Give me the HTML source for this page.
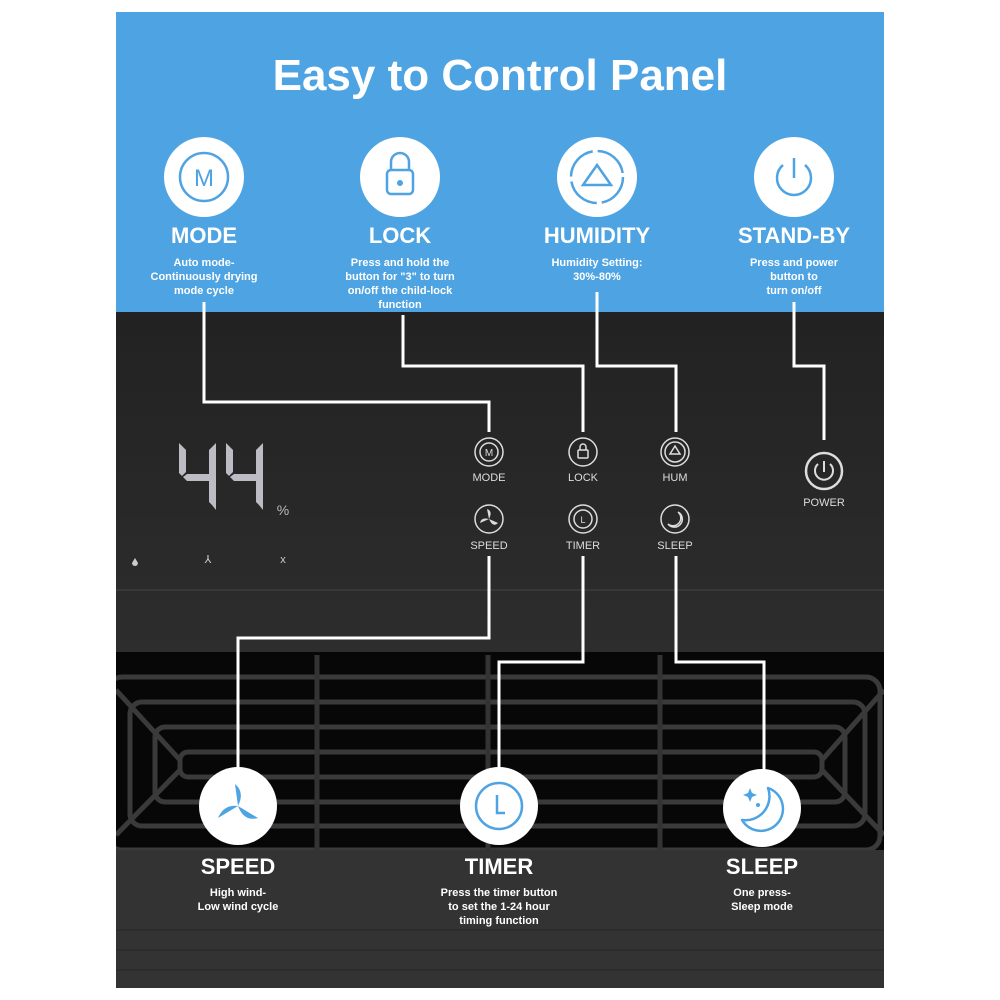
<!DOCTYPE html>
<html><head><meta charset="utf-8"><style>
html,body{margin:0;padding:0;background:#fff;}
svg{display:block;font-family:"Liberation Sans",sans-serif;}
</style></head><body>
<svg width="1000" height="1000" viewBox="0 0 1000 1000" xmlns="http://www.w3.org/2000/svg">
<defs>
<linearGradient id="dk" x1="0" y1="0" x2="0" y2="1">
<stop offset="0" stop-color="#222"/><stop offset="1" stop-color="#383838"/>
</linearGradient>
<clipPath id="cp"><rect x="116" y="12" width="768" height="976"/></clipPath>
</defs>
<rect x="0" y="0" width="1000" height="1000" fill="#fff"/>
<g clip-path="url(#cp)">
<rect x="116" y="312" width="768" height="676" fill="url(#dk)"/>
<line x1="116" y1="590" x2="884" y2="590" stroke="#444" stroke-width="1"/>
<rect x="116" y="652" width="768" height="200" fill="#070707"/>
<g fill="none" stroke="#3a3a3a" stroke-width="5">
<rect x="108" y="677" width="772" height="173" rx="14"/>
<rect x="130" y="702" width="735" height="124" rx="12"/>
<rect x="155" y="727" width="690" height="75" rx="10"/>
<rect x="180" y="752" width="642" height="25" rx="8"/>
<line x1="116" y1="690" x2="180" y2="760"/>
<line x1="116" y1="835" x2="180" y2="770"/>
<line x1="884" y1="690" x2="822" y2="760"/>
<line x1="884" y1="835" x2="822" y2="770"/>
</g>
<g stroke="#333" stroke-width="5">
<line x1="317" y1="655" x2="317" y2="850"/>
<line x1="488" y1="655" x2="488" y2="850"/>
<line x1="660" y1="655" x2="660" y2="850"/>
</g>
<rect x="116" y="850" width="768" height="138" fill="#333"/>
<g stroke="#2a2a2a" stroke-width="1.5">
<line x1="116" y1="930" x2="884" y2="930"/>
<line x1="116" y1="950" x2="884" y2="950"/>
<line x1="116" y1="970" x2="884" y2="970"/>
</g>
</g>
<rect x="116" y="12" width="768" height="300" fill="#4ea3e2"/>
<text x="500" y="90" text-anchor="middle" font-size="44" font-weight="bold" fill="#fff">Easy to Control Panel</text>

<g fill="#fff"><circle cx="204" cy="177" r="40"/><circle cx="400" cy="177" r="40"/><circle cx="597" cy="177" r="40"/><circle cx="794" cy="177" r="40"/></g>
<g fill="none" stroke="#4ea3e2" stroke-width="2.5">
<circle cx="204" cy="177" r="24"/>
<rect x="387" y="170" width="26" height="24" rx="4"/>
<path d="M391 170 v-8 a9 9 0 0 1 18 0 v8"/>
<circle cx="597" cy="177" r="26" stroke-dasharray="36 5"/>
<path d="M597 165 L611 185 L583 185 Z"/>
<path d="M783 165 a17 17 0 1 0 22 0"/>
<line x1="794" y1="158" x2="794" y2="178"/>
</g>
<circle cx="400" cy="183" r="3" fill="#4ea3e2"/>
<text x="204" y="186" text-anchor="middle" font-size="24" fill="#4ea3e2">M</text>

<g fill="#fff" font-weight="bold" text-anchor="middle">
<text x="204" y="243" font-size="22">MODE</text>
<text x="400" y="243" font-size="22">LOCK</text>
<text x="597" y="243" font-size="22">HUMIDITY</text>
<text x="794" y="243" font-size="22">STAND-BY</text>
<g font-size="11">
<text x="204" y="266">Auto mode-</text><text x="204" y="280">Continuously drying</text><text x="204" y="294">mode cycle</text>
<text x="400" y="266">Press and hold the</text><text x="400" y="280">button for "3" to turn</text><text x="400" y="294">on/off the child-lock</text><text x="400" y="308">function</text>
<text x="597" y="266">Humidity Setting:</text><text x="597" y="280">30%-80%</text>
<text x="794" y="266">Press and power</text><text x="794" y="280">button to</text><text x="794" y="294">turn on/off</text>
</g>
</g>

<g fill="none" stroke="#fff" stroke-width="3">
<path d="M204 302 V402 H489 V432"/>
<path d="M403 315 V366 H583 V432"/>
<path d="M597 292 V366 H676 V432"/>
<path d="M794 302 V366 H824 V440"/>
<path d="M489 556 V638 H238 V770"/>
<path d="M583 556 V662 H499 V770"/>
<path d="M676 556 V662 H764 V770"/>
</g>

<g fill="#bdbcc4">
<path d="M179 443 L186 450 L186 472 L182 476 L179 473 Z"/>
<path d="M183 477 L187 474 L210 474 L214 477 L210 481 L187 481 Z"/>
<path d="M209 450 L216 443 L216 510 L212 505 L209 502 L209 481 L212 477 L209 474 Z"/>
<path d="M226 443 L233 450 L233 472 L229 476 L226 473 Z"/>
<path d="M230 477 L234 474 L257 474 L261 477 L257 481 L234 481 Z"/>
<path d="M256 450 L263 443 L263 510 L259 505 L256 502 L256 481 L259 477 L256 474 Z"/>
</g>
<text x="283" y="515" font-size="14" fill="#bbb" text-anchor="middle">%</text>
<g fill="#ccc"><path d="M135 558 l-3 5 a3 3 0 0 0 6 0 z"/></g>
<text x="208" y="563" font-size="11" fill="#ccc" text-anchor="middle">⅄</text>
<text x="283" y="563" font-size="11" fill="#ccc" text-anchor="middle">x</text>

<g fill="none" stroke="#ddd" stroke-width="1.5">
<circle cx="489" cy="452" r="14"/><circle cx="489" cy="452" r="9"/>
<circle cx="583" cy="452" r="14"/><rect x="578" y="450" width="10" height="8" rx="1"/><path d="M580 450 v-3 a3 3 0 0 1 6 0 v3"/>
<circle cx="675" cy="452" r="14"/><circle cx="675" cy="452" r="10"/><path d="M675 446 L680 454 L670 454 Z"/>
<circle cx="489" cy="519" r="14"/>
<circle cx="583" cy="519" r="14"/><circle cx="583" cy="519" r="9"/>
<circle cx="675" cy="519" r="14"/><path d="M678 512 A8 8 0 1 1 668 524 A7 7 0 0 0 678 512"/>
<circle cx="824" cy="471" r="18" stroke-width="2.5"/><path d="M818 464 a9 9 0 1 0 12 0" stroke-width="2"/><line x1="824" y1="461" x2="824" y2="472" stroke-width="2"/>
</g>
<text x="489" y="456" font-size="10" fill="#ddd" text-anchor="middle">M</text>
<text x="583" y="523" font-size="9" fill="#ddd" text-anchor="middle">L</text>
<g fill="#ddd"><path d="M489 519 l-2 -10 q6 2 2 10 z M489 519 l9 4 q-5 5 -9 -4 z M489 519 l-9 4 q1 -6 9 -4 z"/></g>
<g fill="#ddd" font-size="11" text-anchor="middle">
<text x="489" y="481">MODE</text><text x="583" y="481">LOCK</text><text x="675" y="481">HUM</text>
<text x="489" y="549">SPEED</text><text x="583" y="549">TIMER</text><text x="675" y="549">SLEEP</text>
<text x="824" y="506">POWER</text>
</g>

<g fill="#fff"><circle cx="238" cy="806" r="39"/><circle cx="499" cy="806" r="39"/><circle cx="762" cy="808" r="39"/></g>
<g fill="#4ea3e2">
<path d="M238 806 l-3 -22 q10 8 3 22 z M238 806 l20 12 q-14 4 -20 -12 z M238 806 l-20 12 q6 -14 20 -12 z"/>
</g>
<g fill="none" stroke="#4ea3e2" stroke-width="2.5">
<circle cx="499" cy="806" r="23"/>
<path d="M497 795 V813 H505"/>
<path d="M768 788 A22 22 0 1 1 742 820 A24 24 0 0 0 768 788 Z" stroke-linejoin="round"/>
</g>
<g fill="#4ea3e2"><path d="M750 788 l2 5 5 2 -5 2 -2 5 -2 -5 -5 -2 5 -2z"/><circle cx="758" cy="805" r="2"/></g>

<g fill="#fff" font-weight="bold" text-anchor="middle">
<text x="238" y="874" font-size="22">SPEED</text>
<text x="499" y="874" font-size="22">TIMER</text>
<text x="762" y="874" font-size="22">SLEEP</text>
<g font-size="11">
<text x="238" y="896">High wind-</text><text x="238" y="910">Low wind cycle</text>
<text x="499" y="896">Press the timer button</text><text x="499" y="910">to set the 1-24 hour</text><text x="499" y="924">timing function</text>
<text x="762" y="896">One press-</text><text x="762" y="910">Sleep mode</text>
</g>
</g>
</svg>
</body></html>
